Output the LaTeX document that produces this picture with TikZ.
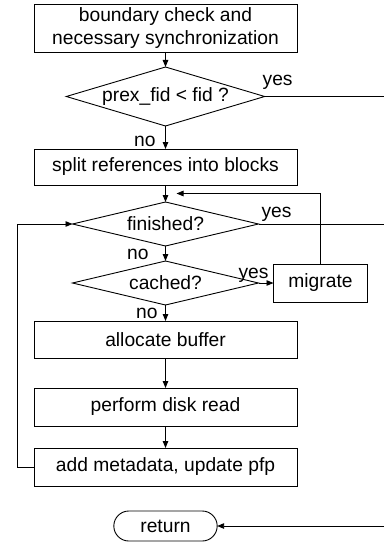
\documentclass[tikz,border=0pt]{standalone}
\usepackage{fontspec}
\setmainfont{Liberation Sans}
\usetikzlibrary{positioning,shapes.geometric,shapes.misc,arrows.meta,calc}

\tikzset{
  block/.style={draw, rectangle, minimum width=263bp, minimum height=37bp, inner sep=2bp, align=center},
  decision/.style={draw, diamond, aspect=4, inner sep=0pt, minimum width=186bp},
  term/.style={draw, rounded rectangle, minimum width=110bp, minimum height=30bp},
  flow/.style={-{Triangle[length=7bp,width=5.5bp]}},
  lbl/.style={inner sep=0pt},
}

\begin{document}
\begin{tikzpicture}[x=1bp, y=1bp, line width=0.9bp, outer sep=0pt,
    font=\fontsize{19.3}{23.5}\selectfont]
  \useasboundingbox (0,0) rectangle (384,-542);
  \coordinate (rim) at (384,0);

  \node[block, minimum height=48bp] (check) at (165.5,-28)
    {boundary check and\\necessary synchronization};
  \node[decision, minimum height=59bp, below=15bp of check] (prex) {prex\_fid < fid ?};
  \node[block, minimum height=36bp, below=23bp of prex] (split) {split references into blocks};
  \node[decision, minimum height=44bp, below=17bp of split] (fin) {finished?};
  \node[decision, minimum height=44bp, below=15bp of fin] (cached) {cached?};
  \node[block, minimum width=94bp, minimum height=38bp, right=15bp of cached] (migrate) {migrate};
  \node[block, below=16bp of cached] (alloc) {allocate buffer};
  \node[block, minimum height=38bp, below=30bp of alloc] (disk) {perform disk read};
  \node[block, minimum height=38bp, below=22bp of disk] (meta) {add metadata, update pfp};
  \node[term, below=25bp of meta] (ret) {return};

  \coordinate (loopin) at ($(split.south)!0.5!(fin.north)+(11,0)$);

  \draw[flow] (check.south) -- (prex.north);
  \draw (prex.east) -- node[lbl, pos=0, anchor=base west, xshift=-2bp, yshift=11bp] {yes} (prex.east -| rim);
  \draw[flow] (prex.south) -- node[lbl, pos=1, anchor=base east, xshift=-10bp, yshift=3bp] {no} (split.north);
  \draw[flow] (split.south) -- (fin.north);
  \draw (fin.east) -- node[lbl, pos=0, anchor=base west, xshift=3bp, yshift=7bp] {yes} (fin.east -| rim);
  \draw[flow] (fin.south) -- node[lbl, pos=1, anchor=base east, xshift=-17bp, yshift=2bp] {no} (cached.north);
  \draw[flow] (cached.east) -- node[lbl, pos=1, anchor=base east, xshift=-5bp, yshift=5bp] {yes} (migrate.west);
  \draw[flow] (migrate.north) |- (loopin);
  \draw[flow] (cached.south) -- node[lbl, pos=1, anchor=base east, xshift=-8bp, yshift=3bp] {no} (alloc.north);
  \draw[flow] (alloc.south) -- (disk.north);
  \draw[flow] (disk.south) -- (meta.north);
  \draw[flow] (meta.west) -- ++(-17,0) |- (fin.west);
  \draw[flow] (ret.east -| rim) -- (ret.east);
\end{tikzpicture}
\end{document}
